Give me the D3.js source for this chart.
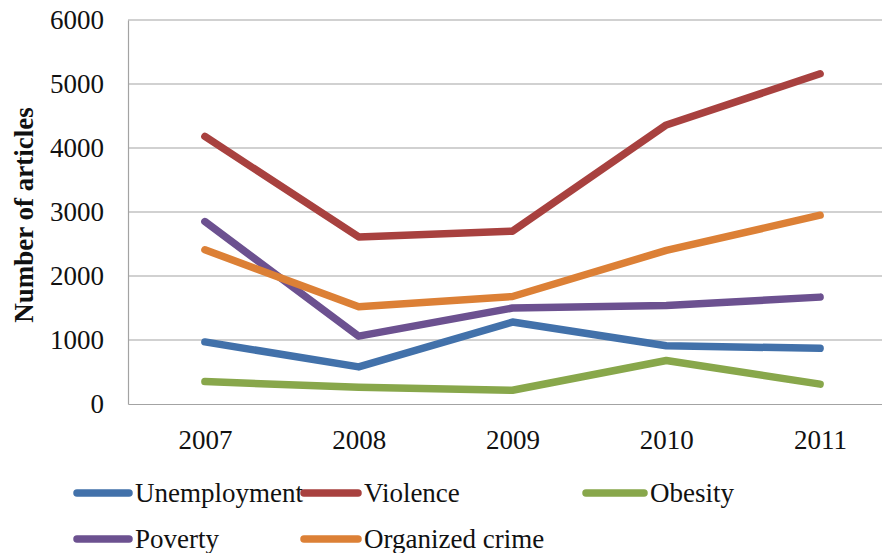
<!DOCTYPE html>
<html>
<head>
<meta charset="utf-8">
<script src="https://cdn.jsdelivr.net/npm/d3@7"></script>
<style>
  html, body { margin: 0; padding: 0; background: #fff; }
  svg { display: block; }
  text { font-family: "Liberation Serif", "DejaVu Serif", serif; fill: #111; }
</style>
</head>
<body>
<svg id="chart" width="882" height="553"></svg>
<script>
// Yearly article counts per topic
const years = ["2007", "2008", "2009", "2010", "2011"];
const unemployment = [970, 580, 1280, 910, 870];
const violence = [4180, 2610, 2700, 4360, 5160];
const obesity = [350, 260, 215, 680, 310];
const poverty = [2850, 1060, 1500, 1540, 1670];
const organizedCrime = [2410, 1520, 1680, 2400, 2950];
const yTicks = [0, 1000, 2000, 3000, 4000, 5000, 6000];

const series = [
  { name: "Unemployment", values: unemployment, color: "#4271AA" },
  { name: "Violence", values: violence, color: "#A8413F" },
  { name: "Obesity", values: obesity, color: "#88A74B" },
  { name: "Poverty", values: poverty, color: "#6C5190" },
  { name: "Organized crime", values: organizedCrime, color: "#DC8036" }
];

const svg = d3.select("#chart");
const plotLeft = 128, plotTop = 20, plotBottom = 404, plotRight = 897;

const x = d3.scalePoint().domain(years).range([plotLeft, plotRight]).padding(0.5);
const y = d3.scaleLinear().domain([0, 6000]).range([plotBottom, plotTop]);

// Horizontal gridlines
svg.append("g")
  .selectAll("line")
  .data(yTicks.filter(d => d > 0))
  .join("line")
  .attr("x1", plotLeft).attr("x2", 882)
  .attr("y1", d => y(d)).attr("y2", d => y(d))
  .attr("stroke", "#A3A3A3").attr("stroke-width", 1.2);

// Y axis
const yAxis = svg.append("g")
  .attr("transform", `translate(${plotLeft},0)`)
  .call(d3.axisLeft(y).tickValues(yTicks).tickFormat(d3.format("d")).tickSize(0).tickPadding(24));
yAxis.select(".domain").attr("stroke", "#A3A3A3").attr("stroke-width", 1.2);
yAxis.selectAll("text")
  .attr("font-size", 27)
  .attr("font-family", "Liberation Serif, serif")
  .attr("fill", "#111");

// X axis
const xAxis = svg.append("g")
  .attr("transform", `translate(0,${plotBottom})`)
  .call(d3.axisBottom(x).tickSize(0).tickPadding(26));
xAxis.select(".domain").attr("stroke", "#A3A3A3").attr("stroke-width", 1.2);
xAxis.selectAll("text")
  .attr("font-size", 27)
  .attr("font-family", "Liberation Serif, serif")
  .attr("fill", "#111");

// Y axis title
svg.append("text")
  .attr("transform", `translate(33,215) rotate(-90)`)
  .attr("text-anchor", "middle")
  .attr("font-weight", "bold")
  .attr("font-size", 27)
  .text("Number of articles");

// Series lines
const line = d3.line()
  .x((d, i) => x(years[i]))
  .y(d => y(d));

svg.append("g")
  .selectAll("path")
  .data(series)
  .join("path")
  .attr("d", d => line(d.values))
  .attr("fill", "none")
  .attr("stroke", d => d.color)
  .attr("stroke-width", 7.5)
  .attr("stroke-linecap", "round")
  .attr("stroke-linejoin", "round");

// Legend: sample line span and label start for each entry
const legendPos = [
  { x0: 77, x1: 129, tx: 135, y: 493 },
  { x0: 304, x1: 358, tx: 364, y: 493 },
  { x0: 586, x1: 644, tx: 650, y: 493 },
  { x0: 77, x1: 129, tx: 135, y: 539 },
  { x0: 304, x1: 358, tx: 364, y: 539 }
];
const legend = svg.append("g")
  .selectAll("g")
  .data(series)
  .join("g")
  .attr("transform", (d, i) => `translate(0,${legendPos[i].y})`);
legend.append("line")
  .attr("x1", (d, i) => legendPos[i].x0)
  .attr("x2", (d, i) => legendPos[i].x1)
  .attr("stroke", d => d.color)
  .attr("stroke-width", 7.5)
  .attr("stroke-linecap", "round");
legend.append("text")
  .attr("x", (d, i) => legendPos[i].tx)
  .attr("y", 9)
  .attr("font-size", 27)
  .text(d => d.name);
</script>
</body>
</html>
